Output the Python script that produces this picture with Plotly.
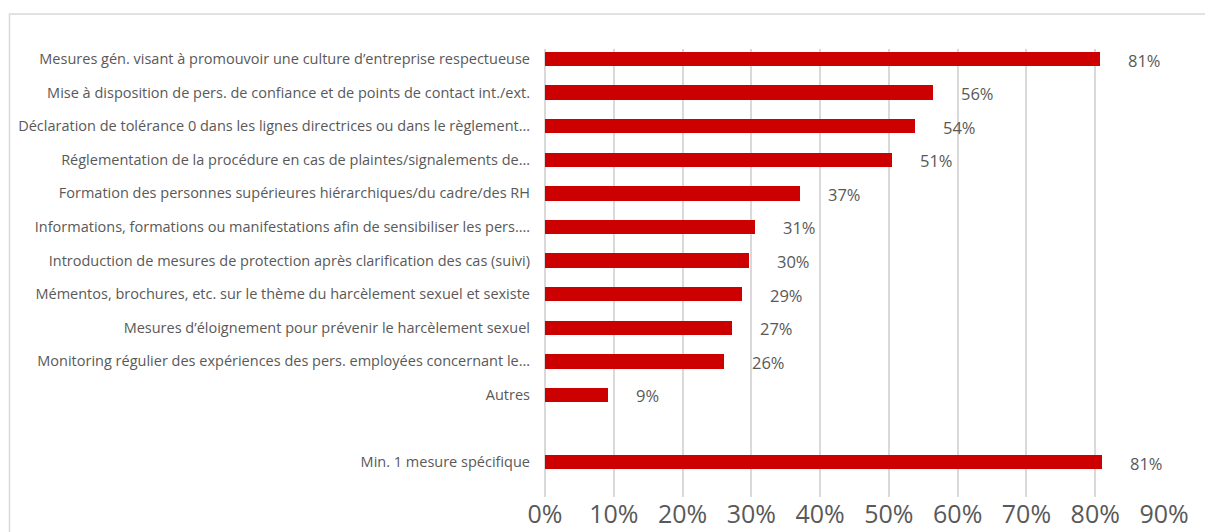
import plotly.graph_objects as go

categories = [
    "Mesures gén. visant à promouvoir une culture d’entreprise respectueuse",
    "Mise à disposition de pers. de confiance et de points de contact int./ext.",
    "Déclaration de tolérance 0 dans les lignes directrices ou dans le règlement…",
    "Réglementation de la procédure en cas de plaintes/signalements de…",
    "Formation des personnes supérieures hiérarchiques/du cadre/des RH",
    "Informations, formations ou manifestations afin de sensibiliser les pers.…",
    "Introduction de mesures de protection après clarification des cas (suivi)",
    "Mémentos, brochures, etc. sur le thème du harcèlement sexuel et sexiste",
    "Mesures d’éloignement pour prévenir le harcèlement sexuel",
    "Monitoring régulier des expériences des pers. employées concernant le…",
    "Autres",
    " ",
    "Min. 1 mesure spécifique",
]
values = [80.7, 56.4, 53.8, 50.5, 37.1, 30.6, 29.6, 28.7, 27.2, 26.0, 9.2, None, 81.0]
labels = ["81%", "56%", "54%", "51%", "37%", "31%", "30%", "29%", "27%", "26%", "9%", "", "81%"]
x_ticks = [0, 10, 20, 30, 40, 50, 60, 70, 80, 90]
x_tick_labels = [f"{t}%" for t in x_ticks]

W, H = 1205, 532
L, R, T, B = 545, 41, 49, 35

fig = go.Figure()
fig.add_trace(go.Bar(
    x=values, y=categories, orientation="h",
    marker=dict(color="#cc0000", line=dict(width=0)),
    width=0.43, hoverinfo="skip",
))

for v, c, lab in zip(values, categories, labels):
    if v is None:
        continue
    fig.add_annotation(x=v, y=c, text=lab, showarrow=False, xanchor="left",
                       xshift=26, yshift=-1,
                       font=dict(family="Open Sans", size=16.5, color="#595959"))

pw = W - L - R
ph = H - T - B
fig.add_shape(type="rect", xref="paper", yref="paper",
              x0=(9.5 - L) / pw, x1=(W + 20 - L) / pw,
              y0=-(60) / ph, y1=1 + (T - 14) / ph,
              line=dict(color="#d9d9d9", width=1.5), layer="below")

fig.update_layout(
    width=W, height=H,
    margin=dict(l=L, r=R, t=T, b=B, pad=0, autoexpand=False),
    paper_bgcolor="white", plot_bgcolor="white",
    showlegend=False,
    bargap=0,
    font=dict(family="Open Sans", color="#595959"),
    xaxis=dict(range=[0, 90], tickmode="array", tickvals=x_ticks, ticktext=x_tick_labels,
               showgrid=True, gridcolor="#d9d9d9", gridwidth=1.5,
               zeroline=True, zerolinecolor="#d9d9d9", zerolinewidth=1.5,
               showline=False, ticks="", ticklabelstandoff=0, automargin=False,
               tickfont=dict(family="Open Sans", size=25, color="#595959")),
    yaxis=dict(type="category", categoryorder="array", categoryarray=categories,
               range=[13.04, -0.30], showgrid=False, zeroline=False, showline=False,
               ticks="", ticklabelstandoff=14, automargin=False,
               tickfont=dict(family="Open Sans", size=14.5, color="#595959")),
)

fig.write_html("out.html", config={"displayModeBar": False},
               post_script="document.body.style.margin='0';document.body.style.overflow='hidden';")
